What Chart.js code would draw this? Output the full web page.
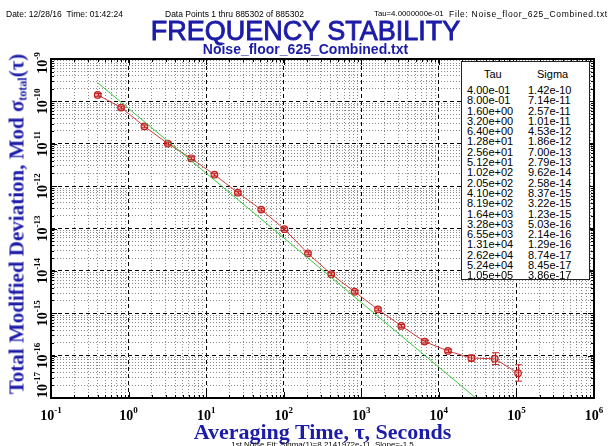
<!DOCTYPE html>
<html>
<head>
<meta charset="utf-8">
<script src="https://cdn.jsdelivr.net/npm/chart.js@4.4.1/dist/chart.umd.min.js"></script>
<style>
  html, body { margin: 0; padding: 0; background: #fff; }
  #wrap { position: relative; width: 611px; height: 446px; overflow: hidden; background: #fff; }
  #wrap canvas { position: absolute; left: 0; top: 0; }
  .hdr { position: absolute; top: 10px; font: 8.5px/8.5px "Liberation Sans", Arial, sans-serif; color: #000; white-space: nowrap; }
  #title { position: absolute; left: 0; width: 611px; top: 18px; text-align: center;
           font: 27px/27px "Liberation Sans", Arial, sans-serif; color: #1c1ca8;
           -webkit-text-stroke: 0.9px #1c1ca8; white-space: nowrap; }
  #subtitle { position: absolute; left: 0; width: 611px; top: 42px; text-align: center;
              font: bold 14px/14px "Liberation Sans", Arial, sans-serif; color: #1c1ca8; white-space: nowrap; }
  #xtitle { position: absolute; left: 51px; width: 543px; top: 421px; text-align: center;
            font: bold 22px/22px "Liberation Serif", "Times New Roman", serif; color: #1c1ca8; white-space: nowrap; }
  #ytitle { position: absolute; left: 20px; top: 224px; transform: translate(-50%, -50%) rotate(-90deg);
            font: bold 21px/21px "Liberation Serif", "Times New Roman", serif; color: #1c1ca8; white-space: nowrap; }
  #ytitle sub { font-size: 12px; vertical-align: -3px; }
  #fit { position: absolute; left: 51px; width: 543px; top: 441px; text-align: center;
         font: 8px/8px "Liberation Sans", Arial, sans-serif; color: #000; white-space: nowrap; }
  #table { position: absolute; left: 461px; top: 61px; width: 127px; height: 217px; background: #fff;
           border: 1.5px solid #222; font: 11px/10.3px "Liberation Sans", Arial, sans-serif; color: #000; }
  #table .row { position: relative; height: 10.3px; white-space: nowrap; }
  #table .c1 { position: absolute; left: 5px; }
  #table .c2 { position: absolute; left: 66px; }
  #table .head .c1 { left: 22px; }
  #table .head .c2 { left: 75px; }
</style>
</head>
<body>
<div id="wrap">
  <canvas id="chart" width="611" height="446"></canvas>
  <div class="hdr" style="left:6px">Date: 12/28/16&nbsp;&nbsp;Time: 01:42:24</div>
  <div class="hdr" style="left:165px">Data Points 1 thru 885302 of 885302</div>
  <div class="hdr" style="left:374px;font-size:7.8px">Tau=4.0000000e-01</div>
  <div class="hdr" style="left:449px;letter-spacing:0.7px">File: Noise_floor_625_Combined.txt</div>
  <div id="title">FREQUENCY STABILITY</div>
  <div id="subtitle">Noise_floor_625_Combined.txt</div>
  <div id="ytitle">Total Modified Deviation, Mod σ<sub>total</sub>(τ)</div>
  <div id="xtitle">Averaging Time, τ, Seconds</div>
  <div id="fit">1st Noise Fit: Sigma(1)=8.2141972e-11, Slope=-1.5</div>
  <div id="table"></div>
</div>
<script>
/* Frequency stability plot: Total Mod sigma vs tau, log-log */

const tau = [0.4, 0.8, 1.6, 3.2, 6.4, 12.8, 25.6, 51.2, 102, 205, 410, 819,
             1640, 3280, 6550, 13100, 26200, 52400, 105000];
const sigma = [1.42e-10, 7.14e-11, 2.57e-11, 1.01e-11, 4.53e-12, 1.86e-12, 7.00e-13,
               2.79e-13, 9.62e-14, 2.58e-14, 8.37e-15, 3.22e-15, 1.23e-15, 5.03e-16,
               2.14e-16, 1.29e-16, 8.74e-17, 8.45e-17, 3.86e-17];
// error bar ends (upper / lower)
const sigmaHi = [1.53e-10, 7.7e-11, 2.77e-11, 1.09e-11, 4.9e-12, 2.01e-12, 7.56e-13,
                 3.01e-13, 1.04e-13, 2.79e-14, 9.04e-15, 3.48e-15, 1.33e-15, 5.43e-16,
                 2.31e-16, 1.41e-16, 1.03e-16, 1.17e-16, 6.1e-17];
const sigmaLo = [1.32e-10, 6.6e-11, 2.38e-11, 9.4e-12, 4.2e-12, 1.72e-12, 6.48e-13,
                 2.58e-13, 8.9e-14, 2.39e-14, 7.75e-15, 2.98e-15, 1.14e-15, 4.66e-16,
                 1.98e-16, 1.18e-16, 7.4e-17, 6.2e-17, 2.5e-17];

// noise fit line (green), end points
const fitTau = [0.4, 30000];
const fitSigma = [2.75e-10, 1.0e-17];

// table text
const tauLabels = ["4.00e-01", "8.00e-01", "1.60e+00", "3.20e+00", "6.40e+00", "1.28e+01",
  "2.56e+01", "5.12e+01", "1.02e+02", "2.05e+02", "4.10e+02", "8.19e+02", "1.64e+03",
  "3.28e+03", "6.55e+03", "1.31e+04", "2.62e+04", "5.24e+04", "1.05e+05"];
const sigmaLabels = ["1.42e-10", "7.14e-11", "2.57e-11", "1.01e-11", "4.53e-12", "1.86e-12",
  "7.00e-13", "2.79e-13", "9.62e-14", "2.58e-14", "8.37e-15", "3.22e-15", "1.23e-15",
  "5.03e-16", "2.14e-16", "1.29e-16", "8.74e-17", "8.45e-17", "3.86e-17"];

// axes
const xDecades = [1e-1, 1e0, 1e1, 1e2, 1e3, 1e4, 1e5, 1e6];
const xExponents = ["-1", "0", "1", "2", "3", "4", "5", "6"];
const yDecades = [1e-17, 1e-16, 1e-15, 1e-14, 1e-13, 1e-12, 1e-11, 1e-10, 1e-9];
const yExponents = ["-17", "-16", "-15", "-14", "-13", "-12", "-11", "-10", "-9"];

const RED = "#c42020";

/* ---------- table ---------- */
function buildTable() {
  const t = document.getElementById("table");
  let html = '<div class="row head" style="height:16px;margin-top:7px"><span class="c1">Tau</span><span class="c2">Sigma</span></div>';
  tauLabels.forEach((tl, i) => {
    html += `<div class="row"><span class="c1">${tl}</span><span class="c2">${sigmaLabels[i]}</span></div>`;
  });
  t.innerHTML = html;
}

function minorTicks(decades) {
  const out = [];
  decades.slice(0, -1).forEach((d) => { for (let k = 2; k <= 9; k++) out.push(d * k); });
  return out;
}

function gridScale(axis, min, max, ticks, color, dash) {
  return {
    type: "logarithmic", axis, position: axis === "x" ? "bottom" : "left", min, max,
    afterBuildTicks: (s) => { s.ticks = ticks.map((v) => ({ value: v })); },
    afterFit: (s) => { if (axis === "x") s.height = 0; else s.width = 0; },
    ticks: { display: false },
    grid: { color, lineWidth: 1, drawTicks: false },
    border: { display: false, dash },
  };
}

/* ---------- plugins ---------- */
const errorBars = {
  id: "errorBars",
  afterDatasetsDraw(chart) {
    const { ctx, chartArea: a, scales: { x, y } } = chart;
    ctx.save();
    ctx.beginPath(); ctx.rect(a.left, a.top, a.right - a.left, a.bottom - a.top); ctx.clip();
    ctx.strokeStyle = RED; ctx.lineWidth = 1;
    tau.forEach((t, i) => {
      const px = Math.round(x.getPixelForValue(t)) + 0.5;
      const yh = y.getPixelForValue(sigmaHi[i]);
      const yl = y.getPixelForValue(sigmaLo[i]);
      ctx.beginPath();
      ctx.moveTo(px, yh); ctx.lineTo(px, yl);
      ctx.moveTo(px - 3.5, yh); ctx.lineTo(px + 3.5, yh);
      ctx.moveTo(px - 3.5, yl); ctx.lineTo(px + 3.5, yl);
      ctx.stroke();
    });
    ctx.restore();
  },
};

const frameAndLabels = {
  id: "frameAndLabels",
  afterDraw(chart) {
    const { ctx, chartArea: a, scales: { x, y } } = chart;
    ctx.save();
    // small tick marks on the frame
    ctx.strokeStyle = "#000"; ctx.lineWidth = 1;
    ctx.beginPath();
    xDecades.concat(minorTicks(xDecades)).forEach((v) => {
      const px = Math.round(x.getPixelForValue(v)) + 0.5;
      const len = xDecades.includes(v) ? 6 : 3;
      ctx.moveTo(px, a.bottom); ctx.lineTo(px, a.bottom - len);
      ctx.moveTo(px, a.top); ctx.lineTo(px, a.top + len);
    });
    yDecades.concat(minorTicks(yDecades)).forEach((v) => {
      const py = Math.round(y.getPixelForValue(v)) + 0.5;
      const len = yDecades.includes(v) ? 6 : 3;
      ctx.moveTo(a.left, py); ctx.lineTo(a.left + len, py);
      ctx.moveTo(a.right, py); ctx.lineTo(a.right - len, py);
    });
    ctx.stroke();
    // frame
    ctx.lineWidth = 2;
    ctx.strokeRect(a.left, a.top, a.right - a.left, a.bottom - a.top);

    // tick labels: 10 with superscript exponent
    ctx.fillStyle = "#000";
    ctx.textBaseline = "alphabetic";
    const big = 'bold 14px "Liberation Serif", serif';
    const small = 'bold 9px "Liberation Serif", serif';
    xDecades.forEach((v, i) => {
      ctx.font = big; const w1 = ctx.measureText("10").width;
      ctx.font = small; const w2 = ctx.measureText(xExponents[i]).width;
      const s = x.getPixelForValue(v) - (w1 + w2) / 2;
      ctx.font = big; ctx.fillText("10", s, 420);
      ctx.font = small; ctx.fillText(xExponents[i], s + w1, 413);
    });
    yDecades.forEach((v, i) => {
      ctx.font = big; const w1 = ctx.measureText("10").width;
      ctx.font = small; const w2 = ctx.measureText(yExponents[i]).width;
      const w = w1 + w2;
      let c = y.getPixelForValue(v);
      c = Math.max(c, a.top + 4);
      c = Math.min(c, a.bottom - w / 2);
      ctx.save();
      ctx.translate(47, c);
      ctx.rotate(-Math.PI / 2);
      ctx.font = big; ctx.fillText("10", -w / 2, 0);
      ctx.font = small; ctx.fillText(yExponents[i], -w / 2 + w1, -7);
      ctx.restore();
    });
    ctx.restore();
  },
};

/* ---------- chart ---------- */
buildTable();

new Chart(document.getElementById("chart"), {
  type: "line",
  data: {
    datasets: [
      {
        label: "fit",
        data: fitTau.map((t, i) => ({ x: t, y: fitSigma[i] })),
        borderColor: "#3cc83c", borderWidth: 1, pointRadius: 0, tension: 0,
      },
      {
        label: "Mod sigma",
        data: tau.map((t, i) => ({ x: t, y: sigma[i] })),
        borderColor: "#d23c3c", borderWidth: 1, tension: 0,
        pointStyle: "circle", pointRadius: 3.3, pointBorderWidth: 1.2,
        pointBorderColor: RED, pointBackgroundColor: "rgba(225,110,110,0.45)",
      },
    ],
  },
  options: {
    responsive: false, animation: false, devicePixelRatio: 1,
    layout: { padding: { left: 51, top: 59, right: 17, bottom: 48 } },
    plugins: { legend: { display: false }, tooltip: { enabled: false }, title: { display: false } },
    scales: {
      x2: gridScale("x", 0.1, 1e6, minorTicks(xDecades), "#8a8a8a", [1, 2]),
      y2: gridScale("y", 1e-17, 1e-9, minorTicks(yDecades), "#8a8a8a", [1, 2]),
      x: gridScale("x", 0.1, 1e6, xDecades, "#000", [4, 3]),
      y: gridScale("y", 1e-17, 1e-9, yDecades, "#000", [4, 3]),
    },
  },
  plugins: [errorBars, frameAndLabels],
});
</script>
</body>
</html>
